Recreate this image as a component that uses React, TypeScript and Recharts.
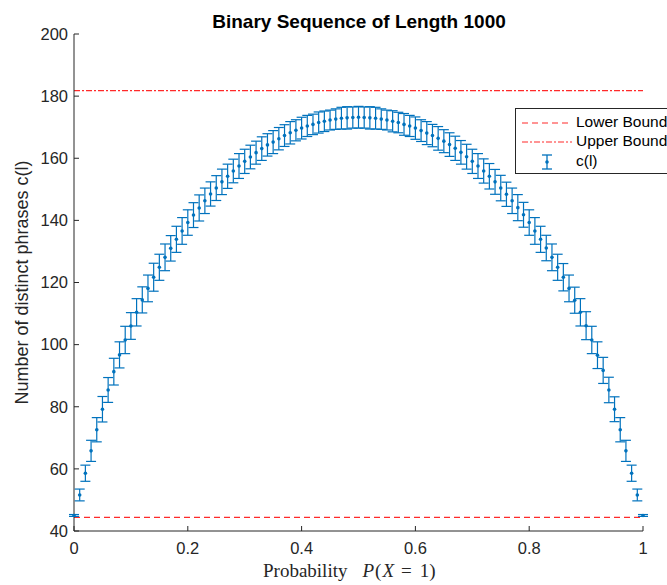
import React from "react";
import {
  ComposedChart,
  Scatter,
  ErrorBar,
  XAxis,
  YAxis,
  ReferenceLine,
  Label,
} from "recharts";

// probability P(X = 1) for each run
const probs = [
  0, 0.01, 0.02, 0.03, 0.04, 0.05, 0.06, 0.07, 0.08, 0.09,
  0.1, 0.11, 0.12, 0.13, 0.14, 0.15, 0.16, 0.17, 0.18, 0.19,
  0.2, 0.21, 0.22, 0.23, 0.24, 0.25, 0.26, 0.27, 0.28, 0.29,
  0.3, 0.31, 0.32, 0.33, 0.34, 0.35, 0.36, 0.37, 0.38, 0.39,
  0.4, 0.41, 0.42, 0.43, 0.44, 0.45, 0.46, 0.47, 0.48, 0.49,
  0.5, 0.51, 0.52, 0.53, 0.54, 0.55, 0.56, 0.57, 0.58, 0.59,
  0.6, 0.61, 0.62, 0.63, 0.64, 0.65, 0.66, 0.67, 0.68, 0.69,
  0.7, 0.71, 0.72, 0.73, 0.74, 0.75, 0.76, 0.77, 0.78, 0.79,
  0.8, 0.81, 0.82, 0.83, 0.84, 0.85, 0.86, 0.87, 0.88, 0.89,
  0.9, 0.91, 0.92, 0.93, 0.94, 0.95, 0.96, 0.97, 0.98, 0.99,
  1,
];

// mean number of distinct phrases c(l)
const phraseMeans = [
  45.0, 51.6, 58.6, 65.8, 72.6, 79.2, 85.4, 91.3, 96.7, 101.5,
  106.0, 110.4, 114.4, 118.1, 121.7, 124.9, 128.1, 131.0, 133.9, 136.6,
  139.3, 141.7, 144.0, 146.3, 148.5, 150.4, 152.4, 154.2, 155.9, 157.5,
  159.0, 160.4, 161.8, 163.1, 164.3, 165.2, 166.3, 167.3, 168.2, 169.0,
  169.7, 170.4, 170.9, 171.5, 171.9, 172.3, 172.6, 172.9, 173.0, 173.1,
  173.2, 173.1, 173.0, 172.9, 172.6, 172.3, 171.9, 171.5, 170.9, 170.4,
  169.7, 168.9, 168.1, 167.3, 166.4, 165.5, 164.4, 163.2, 161.9, 160.5,
  159.0, 157.5, 155.9, 154.2, 152.4, 150.4, 148.4, 146.3, 144.1, 141.8,
  139.3, 136.6, 133.9, 131.1, 128.1, 124.9, 121.7, 118.1, 114.3, 110.4,
  106.1, 101.5, 96.6, 91.7, 85.4, 79.2, 72.6, 65.8, 58.6, 51.6,
  45.0,
];

// standard deviation (error bar half height)
const phraseErrors = [
  0.3, 1.9, 2.6, 3.4, 3.9, 4.1, 4.0, 4.3, 4.2, 4.4,
  4.3, 4.4, 4.2, 4.3, 4.5, 4.2, 4.3, 4.1, 4.2, 4.3,
  4.1, 4.0, 4.2, 4.1, 3.9, 4.0, 4.1, 3.9, 3.8, 4.0,
  3.9, 3.8, 3.7, 3.8, 3.6, 3.7, 3.6, 3.5, 3.6, 3.4,
  3.5, 3.4, 3.3, 3.4, 3.3, 3.2, 3.3, 3.5, 3.6, 3.4,
  3.5, 3.4, 3.6, 3.5, 3.3, 3.2, 3.4, 3.3, 3.5, 3.4,
  3.6, 3.5, 3.7, 3.6, 3.8, 3.7, 3.8, 3.9, 3.8, 4.0,
  3.9, 4.0, 3.9, 4.1, 4.0, 4.1, 3.9, 4.1, 4.2, 4.0,
  4.1, 4.3, 4.2, 4.1, 4.3, 4.2, 4.4, 4.3, 4.2, 4.4,
  4.5, 4.4, 4.3, 4.2, 4.1, 4.0, 3.9, 3.4, 2.6, 1.9,
  0.3,
];

const LOWER_BOUND = 44.4;
const UPPER_BOUND = 181.8;

const xTicks = [0, 0.2, 0.4, 0.6, 0.8, 1];
const yTicks = [40, 60, 80, 100, 120, 140, 160, 180, 200];

const BLUE = "#0072BD";
const RED = "#FF2a2a";
const AXIS = "#262626";
const SANS = "'Liberation Sans', Arial, Helvetica, sans-serif";
const SERIF = "'Liberation Serif', 'DejaVu Serif', serif";

const data = probs.map((p, i) => ({
  p,
  c: phraseMeans[i],
  err: phraseErrors[i],
}));

function Dot(props: any) {
  return <circle cx={props.cx} cy={props.cy} r={1.8} fill={BLUE} />;
}

// LaTeX-ish x label: "Probability  P(X = 1)"
function XLabel() {
  return (
    <text x={263} y={577} fontFamily={SERIF} fontSize={19} fill={AXIS}>
      <tspan>Probability</tspan>
      <tspan dx={15} fontStyle="italic">P</tspan>
      <tspan dx={1}>(</tspan>
      <tspan dx={1} fontStyle="italic">X</tspan>
      <tspan dx={7}>=</tspan>
      <tspan dx={8}>1)</tspan>
    </text>
  );
}

function YLabel(props: any) {
  const vb = props.viewBox || {};
  const cy = (vb.y || 0) + (vb.height || 0) / 2;
  return (
    <text
      x={22}
      y={cy}
      transform={`rotate(-90 22 ${cy})`}
      textAnchor="middle"
      dominantBaseline="central"
      fontFamily={SANS}
      fontSize={18}
      fill={AXIS}
    >
      Number of distinct phrases c(l)
    </text>
  );
}

function LegendBox() {
  const rowText: React.CSSProperties = {
    position: "absolute",
    left: 60,
    fontFamily: SANS,
    fontSize: 15.5,
    color: "#000",
    whiteSpace: "nowrap",
    lineHeight: "18px",
  };
  return (
    <div
      style={{
        position: "absolute",
        left: 515,
        top: 108,
        width: 170,
        height: 64,
        background: "#fff",
        border: `1px solid ${AXIS}`,
      }}
    >
      <svg
        width={60}
        height={64}
        style={{ position: "absolute", left: 0, top: 0 }}
      >
        <line x1={6} y1={14} x2={56} y2={14} stroke={RED} strokeWidth={1.2} strokeDasharray="6 4" />
        <line x1={6} y1={33} x2={56} y2={33} stroke={RED} strokeWidth={1.2} strokeDasharray="6 2 2 2" />
        <line x1={31} y1={46} x2={31} y2={60} stroke={BLUE} strokeWidth={1.3} />
        <line x1={26} y1={46} x2={36} y2={46} stroke={BLUE} strokeWidth={1.3} />
        <line x1={26} y1={60} x2={36} y2={60} stroke={BLUE} strokeWidth={1.3} />
        <circle cx={31} cy={53} r={1.8} fill={BLUE} />
      </svg>
      <div style={{ ...rowText, top: 4 }}>Lower Bound</div>
      <div style={{ ...rowText, top: 23 }}>Upper Bound</div>
      <div style={{ ...rowText, top: 43 }}>c(l)</div>
    </div>
  );
}

export default function App() {
  return (
    <div
      style={{
        position: "fixed",
        left: 0,
        top: 0,
        width: 667,
        height: 585,
        overflow: "hidden",
        background: "#fff",
      }}
    >
      <ComposedChart
        width={667}
        height={585}
        data={data}
        margin={{ top: 34, right: 24, bottom: 0, left: 0 }}
      >
        <XAxis
          dataKey="p"
          type="number"
          domain={[0, 1]}
          ticks={xTicks}
          interval={0}
          height={54}
          tickSize={-5}
          tickMargin={16}
          stroke={AXIS}
          tick={{ fill: AXIS, fontSize: 16.5, fontFamily: SANS }}
          tickFormatter={(v) => `${v}`}
        >
          <Label content={<XLabel />} />
        </XAxis>
        <YAxis
          dataKey="c"
          type="number"
          domain={[40, 200]}
          ticks={yTicks}
          interval={0}
          width={74}
          tickSize={-5}
          tickMargin={11}
          stroke={AXIS}
          tick={{ fill: AXIS, fontSize: 16.5, fontFamily: SANS }}
        >
          <Label content={<YLabel />} />
        </YAxis>
        <ReferenceLine
          y={LOWER_BOUND}
          stroke={RED}
          strokeWidth={1.2}
          strokeDasharray="6 4"
        />
        <ReferenceLine
          y={UPPER_BOUND}
          stroke={RED}
          strokeWidth={1.2}
          strokeDasharray="6 2 2 2"
        />
        <Scatter
          data={data}
          dataKey="c"
          fill={BLUE}
          shape={<Dot />}
          isAnimationActive={false}
        >
          <ErrorBar
            dataKey="err"
            direction="y"
            width={5}
            stroke={BLUE}
            strokeWidth={1.2}
            isAnimationActive={false}
          />
        </Scatter>
      </ComposedChart>
      <div
        style={{
          position: "absolute",
          left: 0,
          width: 718,
          top: 12,
          textAlign: "center",
          fontFamily: SANS,
          fontWeight: "bold",
          fontSize: 19,
          color: "#000",
          lineHeight: "20px",
        }}
      >
        Binary Sequence of Length 1000
      </div>
      <LegendBox />
    </div>
  );
}
